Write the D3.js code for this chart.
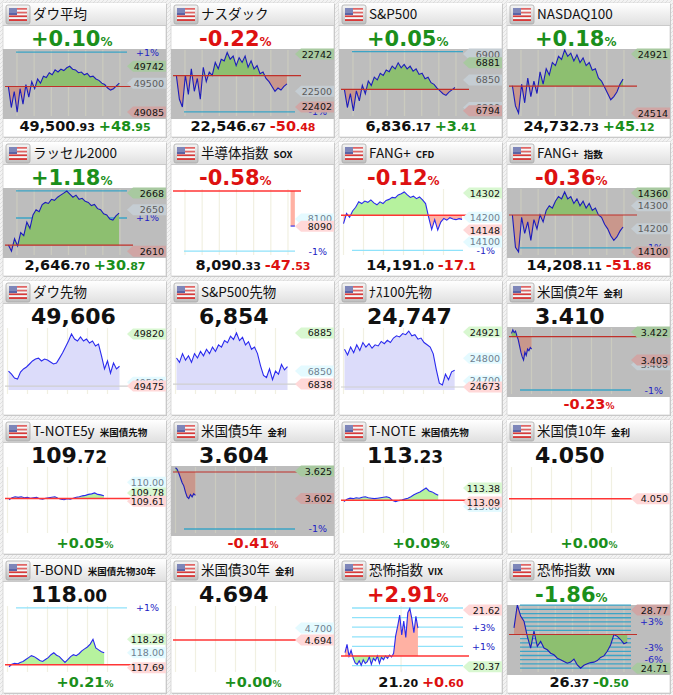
<!DOCTYPE html>
<html>
<head>
<meta charset="utf-8">
<script src="https://cdn.jsdelivr.net/npm/d3@7"></script>
<style>
  body { margin: 0; background: #f0f0f0; }
  svg { display: block; }
</style>
</head>
<body>
<svg id="board" width="673" height="695"></svg>
<script>

// ---- data ----
var names = ["ダウ平均", "ナスダック", "S&P500", "NASDAQ100",
             "ラッセル2000", "半導体指数", "FANG+", "FANG+",
             "ダウ先物", "S&P500先物", "ﾅｽ100先物", "米国債2年",
             "T-NOTE5y", "米国債5年", "T-NOTE", "米国債10年",
             "T-BOND", "米国債30年", "恐怖指数", "恐怖指数"];
var subs = ["", "", "", "", "", "SOX", "CFD", "指数", "", "", "", "金利",
            "米国債先物", "金利", "米国債先物", "金利", "米国債先物30年", "金利", "VIX", "VXN"];
var kinds = ["stock", "stock", "stock", "stock", "stock", "stock", "stock", "stock",
             "fut", "fut", "fut", "yield", "bond", "yield", "bond", "yield", "bond", "yield", "vix", "vix"];
var backdrops = ["gray", "gray", "gray", "gray", "gray", "white", "white", "gray",
                 "white", "white", "white", "gray", "white", "gray", "white", "white",
                 "white", "white", "white", "gray"];
var clocks = ["session", "session", "session", "session", "session", "session", "day", "session",
              "day", "day", "day", "day", "day", "day", "day", "day", "day", "day", "vix", "session"];

var topTexts = ["+0.10", "-0.22", "+0.05", "+0.18", "+1.18", "-0.58", "-0.12", "-0.36",
                "49,606", "6,854", "24,747", "3.410", "109.72", "3.604", "113.23", "4.050",
                "118.00", "4.694", "+2.91", "-1.86"];
var bottomTexts = [["49,500.93", "+48.95"], ["22,546.67", "-50.48"], ["6,836.17", "+3.41"], ["24,732.73", "+45.12"],
                   ["2,646.70", "+30.87"], ["8,090.33", "-47.53"], ["14,191.0", "-17.1"], ["14,208.11", "-51.86"],
                   null, null, null, ["-0.23"],
                   ["+0.05"], ["-0.41"], ["+0.09"], ["+0.00"],
                   ["+0.21"], ["+0.00"], ["21.20", "+0.60"], ["26.37", "-0.50"]];

var prevCloses = [49451.98, 22597.15, 6832.76, 24687.61, 2615.83, 8137.86, 14208.1, 14259.97,
                  49475, 6838, 24673, 3.418, 109.665, 3.6188, 113.128, 4.050,
                  117.753, 4.694, 20.60, 26.87];
var yRanges = [[49000, 49990], [22333, 22764], [6781, 6906], [24482, 24927],
               [2604.4, 2670.9], [8048.4, 8141.9], [14039, 14318], [14078, 14377],
               [49409, 49866], [6827, 6890.5], [24633, 24939], [3.3800, 3.4241],
               [108.92, 110.33], [3.5788, 3.6226], [112.408, 113.836], [3.995, 4.10],
               [117.56, 118.99], [4.677, 4.7115], [20.214, 21.694], [24.34, 28.76]];

var dowSeries = [49450, 49150, 49380, 49085, 49420, 49200, 49480, 49300, 49520, 49420, 49560, 49500, 49600,
  49580, 49650, 49620, 49690, 49660, 49700, 49680, 49720, 49742, 49700, 49690, 49650, 49660, 49620, 49640,
  49590, 49600, 49560, 49540, 49500, 49480, 49430, 49400, 49420, 49460, 49500];
var nasdaqSeries = [22597, 22450, 22402, 22600, 22480, 22640, 22500, 22580, 22450, 22650, 22560, 22620, 22600,
  22680, 22640, 22700, 22690, 22742, 22700, 22720, 22660, 22710, 22680, 22720, 22650, 22690, 22640, 22660,
  22610, 22620, 22580, 22560, 22530, 22500, 22520, 22508, 22530, 22546.67];
var spSeries = [6833, 6800, 6825, 6794, 6830, 6812, 6840, 6825, 6848, 6840, 6855, 6850, 6862, 6858, 6868, 6865,
  6875, 6870, 6881, 6872, 6878, 6870, 6875, 6866, 6870, 6860, 6862, 6852, 6855, 6845, 6842, 6835, 6830, 6825,
  6822, 6828, 6832, 6836.17];
var nq100Series = [24690, 24560, 24514, 24700, 24580, 24740, 24620, 24720, 24640, 24780, 24700, 24800, 24760,
  24840, 24820, 24880, 24860, 24921, 24880, 24900, 24850, 24890, 24840, 24870, 24820, 24840, 24790, 24800,
  24740, 24720, 24680, 24640, 24600, 24620, 24650, 24700, 24732.73];
var russellSeries = [2616, 2610, 2622, 2615, 2628, 2625, 2638, 2632, 2645, 2650, 2648, 2655, 2657, 2656, 2660,
  2659, 2662, 2664, 2666, 2668, 2665, 2662, 2664, 2660, 2661, 2658, 2657, 2654, 2655, 2651, 2650, 2646, 2645,
  2641, 2640, 2644, 2646.7];
var soxSeries = [8090.33, 8090.33];
var fangCfdSeries = [14174, 14215, 14200, 14225, 14240, 14262, 14255, 14265, 14260, 14270, 14258, 14250, 14262,
  14255, 14268, 14272, 14280, 14278, 14290, 14295, 14302, 14290, 14280, 14285, 14275, 14282, 14270, 14255,
  14200, 14150, 14190, 14148, 14180, 14195, 14188, 14198, 14193, 14190, 14194, 14191];
var fangIdxSeries = [14260, 14120, 14100, 14250, 14180, 14230, 14150, 14240, 14200, 14260, 14230, 14280, 14300,
  14290, 14320, 14340, 14330, 14360, 14330, 14340, 14310, 14330, 14300, 14320, 14290, 14310, 14280, 14290,
  14260, 14250, 14220, 14200, 14170, 14150, 14165, 14190, 14208.11];
var dowFutSeries = [49574, 49554, 49528, 49521, 49568, 49588, 49601, 49621, 49641, 49654, 49660, 49641, 49654,
  49647, 49634, 49621, 49627, 49660, 49694, 49733, 49773, 49820, 49786, 49773, 49800, 49773, 49786, 49760,
  49773, 49740, 49753, 49674, 49588, 49641, 49561, 49627, 49588, 49606];
var spFutSeries = [6862, 6858, 6866, 6860, 6864, 6858, 6866, 6862, 6868, 6864, 6870, 6866, 6872, 6868, 6874,
  6872, 6878, 6876, 6882, 6879, 6885, 6878, 6881, 6874, 6877, 6870, 6872, 6866, 6855, 6846, 6844, 6852, 6842,
  6850, 6847, 6856, 6851, 6854];
var nqFutSeries = [24840, 24815, 24850, 24825, 24860, 24835, 24870, 24850, 24865, 24845, 24860, 24855, 24875,
  24865, 24880, 24870, 24890, 24900, 24895, 24910, 24905, 24921, 24900, 24905, 24885, 24890, 24870, 24860,
  24850, 24820, 24750, 24690, 24682, 24730, 24705, 24740, 24747];
var us2ySeries = [3.4200, 3.4222, 3.4205, 3.4215, 3.4185, 3.4160, 3.4120, 3.4080, 3.4050, 3.4030, 3.4080,
  3.4060, 3.4100, 3.4090, 3.4110, 3.4100];
var tnote5Series = [109.64, 109.68, 109.70, 109.69, 109.70, 109.68, 109.69, 109.67, 109.68, 109.69, 109.66,
  109.65, 109.67, 109.68, 109.69, 109.70, 109.67, 109.65, 109.64, 109.66, 109.65, 109.67, 109.69, 109.70,
  109.72, 109.73, 109.75, 109.76, 109.78, 109.75, 109.74, 109.72];
var us5ySeries = [3.6215, 3.6205, 3.6180, 3.6150, 3.6120, 3.6100, 3.6060, 3.6030, 3.6020, 3.6045, 3.6030,
  3.6050, 3.6040];
var tnoteSeries = [113.10, 113.15, 113.17, 113.16, 113.18, 113.17, 113.19, 113.20, 113.18, 113.17, 113.16,
  113.17, 113.18, 113.19, 113.20, 113.18, 113.12, 113.10, 113.12, 113.13, 113.15, 113.17, 113.20, 113.24,
  113.27, 113.30, 113.34, 113.38, 113.32, 113.30, 113.26, 113.23];
var us10ySeries = [4.050, 4.050];
var tbondSeries = [117.71, 117.76, 117.78, 117.77, 117.80, 117.82, 117.86, 117.90, 117.94, 117.92, 117.88,
  117.84, 117.82, 117.86, 117.90, 117.96, 118.00, 117.95, 117.92, 117.86, 117.80, 117.86, 117.92, 117.96,
  117.94, 117.98, 118.04, 118.08, 118.12, 118.18, 118.28, 118.10, 118.06, 118.02, 118.00];
var us30ySeries = [];
var vixSeries = [20.67, 20.85, 20.60, 20.72, 20.56, 20.45, 20.42, 20.50, 20.40, 20.52, 20.44, 20.48, 20.58,
  20.42, 20.55, 20.50, 20.60, 20.44, 20.57, 20.52, 20.60, 20.55, 20.62, 20.58, 20.66,
  21.03, 21.24, 21.48, 21.05, 21.35, 21.00, 21.53, 21.62, 21.40, 21.10, 21.45, 21.20];
var vxnSeries = [27.29, 28.77, 28.05, 27.72, 26.75, 26.00, 27.08, 26.11, 26.43, 26.00, 25.89, 25.67, 25.57,
  25.35, 25.25, 25.14, 25.03, 25.10, 25.30, 24.92, 24.71, 24.90, 24.99, 25.07, 25.10, 25.20, 25.40, 25.50,
  25.80, 26.20, 26.87, 26.75, 26.55, 26.28, 26.37];

var seriesList = [dowSeries, nasdaqSeries, spSeries, nq100Series, russellSeries, soxSeries, fangCfdSeries,
  fangIdxSeries, dowFutSeries, spFutSeries, nqFutSeries, us2ySeries, tnote5Series, us5ySeries, tnoteSeries,
  us10ySeries, tbondSeries, us30ySeries, vixSeries, vxnSeries];
// time of first point and time between points (hours into the chart's clock)
var seriesStart = [0, 0, 0, 0, 0, 6.65, 0, 0, 0.05, 0.05, 0.05, 0, 0.075, 0, 0.025, 0.95, 0.075, 0, 0.035, 0.093];
var seriesStep = [0.17, 0.174, 0.174, 0.179, 0.179, 0.25, 0.152, 0.179, 0.15, 0.15, 0.153, 0.067, 0.153, 0.083,
  0.152, 0.05, 0.14, 0.1, 0.118, 0.194];

// price tags on the right: [text, kind]
var labelSets = [
  [["49500", "tick"], ["49742", "hi"], ["49085", "lo"]],
  [["22500", "tick"], ["22742", "hi"], ["22402", "lo"]],
  [["6900", "tick"], ["6850", "tick"], ["6800", "tick"], ["6881", "hi"], ["6794", "lo"]],
  [["24921", "hi"], ["24514", "lo"]],
  [["2650", "tick"], ["2668", "hi"], ["2610", "lo"]],
  [["8100", "tick"], ["8090", "lo"]],
  [["14200", "tick"], ["14100", "tick"], ["14302", "hi"], ["14148", "lo"]],
  [["14300", "tick"], ["14200", "tick"], ["14360", "hi"], ["14100", "lo"]],
  [["49500", "tick"], ["49820", "hi"], ["49475", "lo"]],
  [["6850", "tick"], ["6885", "hi"], ["6838", "lo"]],
  [["24800", "tick"], ["24700", "tick"], ["24921", "hi"], ["24673", "lo"]],
  [["3.400", "tick"], ["3.422", "hi"], ["3.403", "lo"]],
  [["110.00", "tick"], ["109.78", "hi"], ["109.61", "lo"]],
  [["3.625", "hi"], ["3.602", "lo"]],
  [["113.00", "tick"], ["113.38", "hi"], ["113.09", "lo"]],
  [["4.050", "lo"]],
  [["118.00", "tick"], ["118.28", "hi"], ["117.69", "lo"]],
  [["4.700", "tick"], ["4.694", "lo"]],
  [["21.62", "hi"], ["20.37", "lo"]],
  [["28.77", "hi"], ["24.71", "lo"]]
];
// percent guide lines: [percent from previous close, label]
var pctSets = [
  [[1, "+1%"]], [[-1, "-1%"]], [[1, ""]], [], [[2, ""], [1, "+1%"]], [[-1, "-1%"]], [[-1, "-1%"]], [[-1, "-1%"]],
  [], [], [], [[-1, "-1%"]], [], [[-1, "-1%"]], [], [], [[1, "+1%"]], [],
  [[5, ""], [4, ""], [3, "+3%"], [2, ""], [1, "+1%"], [-1, ""]],
  [[7, ""], [6, ""], [5, ""], [4, ""], [3, "+3%"], [2, ""], [1, ""], [-1, ""], [-2, ""], [-3, "-3%"],
   [-4, ""], [-5, ""], [-6, "-6%"], [-7, ""], [-8, ""]]
];

// ---- layout ----
var W = 163, H = 134, PITCH_X = 168, PITCH_Y = 139;
var CH_TOP = 46, CH_BOT = 115, FUT_FLOOR = 109;
var UP = "#1b8f1b", DOWN = "#dd1111";

var clockSpec = {
  session: {domain: [0, 6.5], range: [5.4, 117], grid: [0.5, 1.5, 2.5, 3.5, 4.5, 5.5, 6.5]},
  day: {domain: [0, 6], range: [4.5, 124.5], grid: [0, 1, 2, 3, 4, 5]},
  vix: {domain: [0, 6.5], range: [5.4, 117], grid: [3.3]}
};

var look = {
  gray: {bg: "#bdbdbd", grid: "#cbcbbf", ref: "#c0302a", refW: 1.2, up: "#8dbf70", down: "#c9978c",
         pct: "#3ba4c6", line: "#1c1cbc", hi: "#a8c9a0", lo: "#d0a5a4", tick: "#c5cdd3", tickText: "#5c5c5c"},
  white: {bg: "#ffffff", grid: "#f1f0e2", ref: "#ff3535", refW: 1.5, up: "#b6f29e", down: "#ffb1a3",
          pct: "#8fe2fa", line: "#2a2aee", hi: "#d8f7d0", lo: "#ffd8d8", tick: "#e4faff", tickText: "#6f7f90"}
};

var svg = d3.select("#board");
var defs = svg.append("defs");

var hatch = defs.append("pattern")
    .attr("id", "hatch")
    .attr("width", 4)
    .attr("height", 4)
    .attr("patternUnits", "userSpaceOnUse");
hatch.append("rect").attr("width", 4).attr("height", 4).attr("fill", "#f3f3f3");
hatch.append("path")
    .attr("d", "M-1,1 l2,-2 M0,4 l4,-4 M3,5 l2,-2")
    .attr("stroke", "#e0e0e0")
    .attr("stroke-width", 1);

function vGrad(id, c0, c1){
  var gr = defs.append("linearGradient")
      .attr("id", id)
      .attr("x1", 0).attr("y1", 0).attr("x2", 0).attr("y2", 1);
  gr.append("stop").attr("offset", "0%").attr("stop-color", c0);
  gr.append("stop").attr("offset", "100%").attr("stop-color", c1);
}
vGrad("headGrad", "#ffffff", "#e0e0e0");
vGrad("tileGrad", "#f6f6f6", "#bdbdbd");

svg.append("rect")
    .attr("width", 673)
    .attr("height", 695)
    .attr("fill", "url(#hatch)");

function signColor(s, inv){
  var neg = s.charAt(0) === "-";
  return (neg !== inv) ? DOWN : UP;
}

function splitDec(s){
  var k = s.indexOf(".");
  return k < 0 ? [s, ""] : [s.slice(0, k), s.slice(k)];
}

function drawFlag(g){
  g.append("rect")
      .attr("x", 3).attr("y", 2)
      .attr("width", 24).attr("height", 19)
      .attr("rx", 2)
      .attr("fill", "url(#tileGrad)")
      .attr("stroke", "#a9a9a9")
      .attr("stroke-width", 0.8);
  var stripes = d3.range(7);
  g.selectAll(null)
      .data(stripes)
      .join("rect")
      .attr("x", 6)
      .attr("y", function(d){ return 5 + d * 13 / 7; })
      .attr("width", 18)
      .attr("height", 13 / 7)
      .attr("fill", function(d){ return d % 2 === 0 ? "#d83a3a" : "#f6f6f6"; });
  g.append("rect")
      .attr("x", 6).attr("y", 5)
      .attr("width", 8).attr("height", 7)
      .attr("fill", "#5a64a6");
  g.append("rect")
      .attr("x", 6).attr("y", 5)
      .attr("width", 18).attr("height", 5)
      .attr("fill", "#ffffff")
      .attr("opacity", 0.22);
}

function drawFrame(g, i){
  g.append("rect")
      .attr("x", 1).attr("y", 1)
      .attr("width", W).attr("height", H)
      .attr("fill", "#c4c4c4");
  g.append("rect")
      .attr("width", W).attr("height", H)
      .attr("fill", "#ffffff")
      .attr("stroke", "#d2d2d2")
      .attr("stroke-width", 0.8);
  g.append("rect")
      .attr("width", W).attr("height", 22)
      .attr("fill", "url(#headGrad)");
  g.append("line")
      .attr("x1", 0).attr("x2", W)
      .attr("y1", 22.5).attr("y2", 22.5)
      .attr("stroke", "#cacaca");
  drawFlag(g);

  var title = g.append("text")
      .attr("x", 30)
      .attr("y", 16)
      .style("font-family", "'Noto Sans CJK JP', 'Noto Sans', sans-serif")
      .style("font-size", "13.5px")
      .style("fill", "#111");
  title.append("tspan").text(names[i]);
  if (subs[i]) {
    title.append("tspan")
        .attr("dx", 5)
        .style("font-size", "9.5px")
        .style("font-weight", "bold")
        .text(subs[i]);
  }
}

function tag(g, yy, fill, text, color){
  g.append("path")
      .attr("d", "M124," + yy + " L130," + (yy - 5.5) + " H163 V" + (yy + 5.5) + " H130 Z")
      .attr("fill", fill);
  g.append("text")
      .attr("x", 161)
      .attr("y", yy + 3.5)
      .attr("text-anchor", "end")
      .style("font-family", "'DejaVu Sans', sans-serif")
      .style("font-size", "9.5px")
      .style("fill", color)
      .text(text);
}

function drawChart(g, i){
  var lk = look[backdrops[i]];
  var spec = clockSpec[clocks[i]];
  var kind = kinds[i];
  var inv = kind === "vix";
  var prev = prevCloses[i];

  var x = d3.scaleLinear().domain(spec.domain).range(spec.range);
  var y = d3.scaleLinear().domain(yRanges[i]).range([CH_BOT, CH_TOP]);

  if (backdrops[i] === "gray") {
    g.append("rect")
        .attr("x", 0).attr("y", CH_TOP)
        .attr("width", W).attr("height", CH_BOT - CH_TOP + 1)
        .attr("fill", lk.bg);
  }

  g.selectAll(null)
      .data(spec.grid)
      .join("line")
      .attr("x1", function(d){ return x(d); })
      .attr("x2", function(d){ return x(d); })
      .attr("y1", 47).attr("y2", 113)
      .attr("stroke", lk.grid)
      .attr("stroke-width", 1.2);

  g.selectAll(null)
      .data(pctSets[i])
      .join("line")
      .attr("x1", 13).attr("x2", 124)
      .attr("y1", function(d){ return y(prev * (1 + d[0] / 100)); })
      .attr("y2", function(d){ return y(prev * (1 + d[0] / 100)); })
      .attr("stroke", lk.pct)
      .attr("stroke-width", 1.3);

  var pts = seriesList[i].map(function(v, k){
    return {t: seriesStart[i] + k * seriesStep[i], v: v};
  });

  var clipId = "clip" + i;
  defs.append("clipPath").attr("id", clipId)
      .append("rect")
      .attr("x", 0).attr("y", CH_TOP)
      .attr("width", W).attr("height", CH_BOT - CH_TOP);
  var plot = g.append("g").attr("clip-path", "url(#" + clipId + ")");

  var yPrev = y(prev);
  if (pts.length > 1) {
    if (kind === "fut") {
      plot.append("path")
          .datum(pts)
          .attr("d", d3.area()
              .x(function(d){ return x(d.t); })
              .y0(FUT_FLOOR)
              .y1(function(d){ return y(d.v); }))
          .attr("fill", "#dcdcfa");
    } else {
      defs.append("clipPath").attr("id", "above" + i)
          .append("rect").attr("x", 0).attr("y", 0).attr("width", W).attr("height", yPrev);
      defs.append("clipPath").attr("id", "below" + i)
          .append("rect").attr("x", 0).attr("y", yPrev).attr("width", W).attr("height", H - yPrev);
      var band = d3.area()
          .x(function(d){ return x(d.t); })
          .y0(yPrev)
          .y1(function(d){ return y(d.v); });
      plot.append("path")
          .datum(pts)
          .attr("d", band)
          .attr("clip-path", "url(#above" + i + ")")
          .attr("fill", inv ? lk.down : lk.up);
      plot.append("path")
          .datum(pts)
          .attr("d", band)
          .attr("clip-path", "url(#below" + i + ")")
          .attr("fill", inv ? lk.up : lk.down);
    }
  }

  g.append("line")
      .attr("x1", 2).attr("x2", 130)
      .attr("y1", yPrev).attr("y2", yPrev)
      .attr("stroke", kind === "fut" ? "#cfcfcf" : lk.ref)
      .attr("stroke-width", kind === "fut" ? 1.2 : lk.refW);

  if (pts.length > 1) {
    plot.append("path")
        .datum(pts)
        .attr("d", d3.line()
            .x(function(d){ return x(d.t); })
            .y(function(d){ return y(d.v); }))
        .attr("fill", "none")
        .attr("stroke", lk.line)
        .attr("stroke-width", 1.1);
  }

  pctSets[i].forEach(function(p){
    if (!p[1]) return;
    g.append("text")
        .attr("x", 156)
        .attr("y", y(prev * (1 + p[0] / 100)) + 3.5)
        .attr("text-anchor", "end")
        .style("font-family", "'DejaVu Sans', sans-serif")
        .style("font-size", "9.5px")
        .style("fill", "#2222c4")
        .text(p[1]);
  });

  var order = ["tick", "hi", "lo"];
  order.forEach(function(type){
    labelSets[i].forEach(function(lb){
      if (lb[1] !== type) return;
      var yy = Math.max(51, Math.min(110, y(parseFloat(lb[0]))));
      if (type === "tick") {
        tag(g, yy, lk.tick, lb[0], lk.tickText);
      } else {
        var good = (type === "hi") !== inv;
        tag(g, yy, good ? lk.hi : lk.lo, lb[0], "#111");
      }
    });
  });
}

function drawTexts(g, i){
  var kind = kinds[i];
  var inv = kind === "vix";
  var s = topTexts[i];

  var top = g.append("text")
      .attr("x", 28)
      .attr("y", 43)
      .style("font-family", "'DejaVu Sans', sans-serif")
      .style("font-weight", "bold");
  if (kind === "stock" || kind === "vix") {
    top.style("fill", signColor(s, inv));
    top.append("tspan").style("font-size", "21px").text(s);
    top.append("tspan").style("font-size", "12px").text("%");
  } else if (kind === "bond") {
    var parts = splitDec(s);
    top.style("fill", "#111");
    top.append("tspan").style("font-size", "22px").text(parts[0]);
    top.append("tspan").style("font-size", "17px").text(parts[1]);
  } else {
    top.style("fill", "#111").append("tspan").style("font-size", "22px").text(s);
  }

  var b = bottomTexts[i];
  if (!b) return;
  var bottom = g.append("text")
      .attr("x", 82)
      .attr("y", 128)
      .attr("text-anchor", "middle")
      .style("font-family", "'DejaVu Sans', sans-serif")
      .style("font-weight", "bold");
  if (b.length === 2) {
    var pr = splitDec(b[0]);
    var ch = splitDec(b[1]);
    var c = signColor(b[1], inv);
    bottom.append("tspan").style("font-size", "14.5px").style("fill", "#111").text(pr[0]);
    bottom.append("tspan").style("font-size", "11px").style("fill", "#111").text(pr[1] + " ");
    bottom.append("tspan").style("font-size", "14.5px").style("fill", c).text(ch[0]);
    bottom.append("tspan").style("font-size", "11px").style("fill", c).text(ch[1]);
  } else {
    var pc = signColor(b[0], inv);
    bottom.append("tspan").style("font-size", "14.5px").style("fill", pc).text(b[0]);
    bottom.append("tspan").style("font-size", "9px").style("fill", pc).text("%");
  }
}

names.forEach(function(name, i){
  var g = svg.append("g")
      .attr("transform", "translate(" + (3 + (i % 4) * PITCH_X) + "," + (3 + Math.floor(i / 4) * PITCH_Y) + ")");
  drawFrame(g, i);
  drawChart(g, i);
  drawTexts(g, i);
});

</script>
</body>
</html>
